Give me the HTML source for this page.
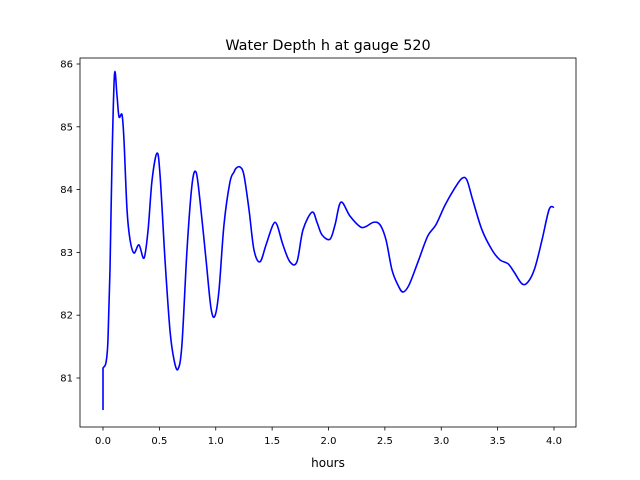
<!DOCTYPE html>
<html><head><meta charset="utf-8"><style>
html,body{margin:0;padding:0;background:#fff;}
svg{display:block;font-family:"DejaVu Sans","Liberation Sans",sans-serif;}
</style></head><body>
<svg id="chart" width="640" height="480" viewBox="0 0 640 480" xmlns="http://www.w3.org/2000/svg">
<rect width="640" height="480" fill="#fff"/>
<text x="328" y="50" font-size="14.4" text-anchor="middle">Water Depth h at gauge 520</text>
<g id="plot"></g>
<rect x="80" y="58" width="496" height="369" fill="none" stroke="#000" stroke-width="0.8"/>
<text x="328" y="467" font-size="12" text-anchor="middle">hours</text>
</svg>
<script>
const times=[0,0,0.005,0.027,0.044,0.062,0.08,0.102,0.124,0.142,0.169,0.186,0.213,0.24,0.275,0.319,0.364,0.4,0.435,0.479,0.506,0.55,0.594,0.63,0.665,0.7,0.745,0.789,0.825,0.86,0.914,0.958,0.993,1.029,1.073,1.126,1.162,1.18,1.215,1.25,1.295,1.339,1.392,1.446,1.508,1.543,1.596,1.658,1.72,1.774,1.854,1.898,1.942,2.013,2.058,2.11,2.19,2.28,2.33,2.40,2.457,2.51,2.563,2.616,2.66,2.714,2.794,2.88,2.953,3.033,3.122,3.184,3.228,3.28,3.361,3.45,3.521,3.592,3.645,3.716,3.77,3.83,3.894,3.956,4.0];
const depths=[80.49,81.16,81.17,81.25,81.6,82.72,84.47,85.84,85.5,85.16,85.19,84.79,83.68,83.2,82.99,83.12,82.91,83.36,84.15,84.58,84.23,82.88,81.76,81.29,81.14,81.53,83.04,84.07,84.28,83.83,82.88,82.11,81.99,82.4,83.44,84.12,84.28,84.34,84.36,84.23,83.68,83.04,82.85,83.12,83.44,83.44,83.12,82.85,82.85,83.36,83.64,83.48,83.28,83.21,83.44,83.8,83.58,83.41,83.41,83.48,83.44,83.2,82.72,82.48,82.37,82.48,82.85,83.26,83.44,83.75,84.03,84.18,84.15,83.83,83.36,83.04,82.88,82.82,82.69,82.5,82.53,82.75,83.2,83.68,83.72];
const xTicks=[0,0.5,1,1.5,2,2.5,3,3.5,4];
const xTickLabels=["0.0","0.5","1.0","1.5","2.0","2.5","3.0","3.5","4.0"];
const yTicks=[81,82,83,84,85,86];
const yTickLabels=["81","82","83","84","85","86"];
const NS="http://www.w3.org/2000/svg";
function xs(t){return 103+t*112.75;}
function ys(v){return 64+(86-v)*62.8;}
const g=document.getElementById('plot');
function mk(tag,attrs){const e=document.createElementNS(NS,tag);for(const k in attrs)e.setAttribute(k,attrs[k]);g.appendChild(e);return e;}
xTicks.forEach((t,i)=>{
  const l=mk('line',{x1:xs(t),x2:xs(t),y1:427,y2:430.5,stroke:'#000','stroke-width':0.8});
  
  
  const tx=mk('text',{x:xs(t),y:444,'font-size':10,'text-anchor':'middle'});
  tx.textContent=xTickLabels[i];
  
  
});
yTicks.forEach((v,i)=>{
  const l=mk('line',{x1:76.5,x2:80,y1:ys(v),y2:ys(v),stroke:'#000','stroke-width':0.8});
  
  
  const tx=mk('text',{x:73,y:ys(v)+3.5,'font-size':10,'text-anchor':'end'});
  tx.textContent=yTickLabels[i];
  
  
});
const P=times.map((t,i)=>[xs(t),ys(depths[i])]);
let d='M'+P[0][0]+','+P[0][1]+' L'+P[1][0]+','+P[1][1];
for(let i=1;i<P.length-1;i++){
  const p0=P[i-1],p1=P[i],p2=P[i+1],p3=P[Math.min(i+2,P.length-1)];
  const c1=[p1[0]+(p2[0]-(i===1?p1[0]:p0[0]))/6,p1[1]+(p2[1]-(i===1?p1[1]:p0[1]))/6];
  const c2=[p2[0]-(p3[0]-p1[0])/6,p2[1]-(p3[1]-p1[1])/6];
  d+=' C'+c1[0].toFixed(2)+','+c1[1].toFixed(2)+' '+c2[0].toFixed(2)+','+c2[1].toFixed(2)+' '+p2[0].toFixed(2)+','+p2[1].toFixed(2);
}
const line=mk('path',{d:d,fill:'none',stroke:'#0000ff','stroke-width':1.6,'stroke-linejoin':'round'});


</script>
</body></html>
